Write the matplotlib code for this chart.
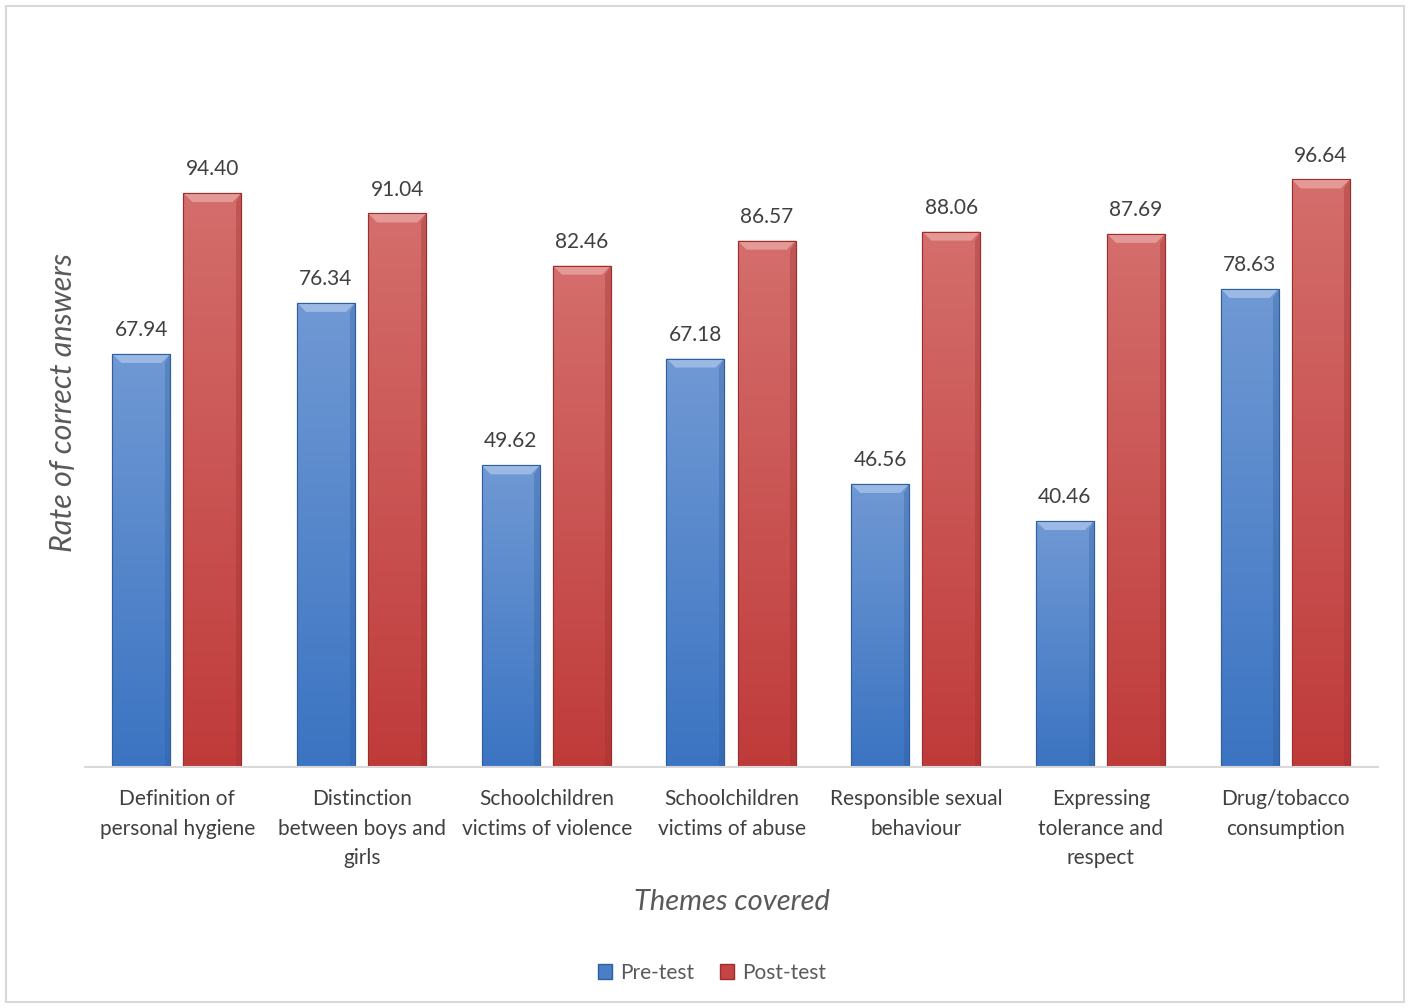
import numpy as np
import matplotlib
matplotlib.use("Agg")
import matplotlib.pyplot as plt
from matplotlib.patches import Patch, Polygon, Rectangle
from matplotlib.colors import LinearSegmentedColormap

plt.rcParams['font.family'] = ['Lato', 'DejaVu Sans']

themes = ["Definition of\npersonal hygiene",
          "Distinction\nbetween boys and\ngirls",
          "Schoolchildren\nvictims of violence",
          "Schoolchildren\nvictims of abuse",
          "Responsible sexual\nbehaviour",
          "Expressing\ntolerance and\nrespect",
          "Drug/tobacco\nconsumption"]
pre_test = [67.94, 76.34, 49.62, 67.18, 46.56, 40.46, 78.63]
post_test = [94.40, 91.04, 82.46, 86.57, 88.06, 87.69, 96.64]

W, H = 1410, 1008
fig = plt.figure(figsize=(W / 100, H / 100), dpi=100)
fig.patches.append(Rectangle((6 / W, 6 / H), 1 - 12 / W, 1 - 12 / H,
                             transform=fig.transFigure, fill=False,
                             edgecolor='#d9d9d9', linewidth=1.5))

# plot area: 0 at y=767 px, 6.08 px per unit
ymax = 120
ax_h = ymax * 6.08
ax = fig.add_axes([85 / W, (H - 767) / H, 1293 / W, ax_h / H])
ax.set_xlim(-0.5, len(themes) - 0.5)
ax.set_ylim(0, ymax)

styles = {
    'Pre-test': dict(top='#7099d4', bottom='#3b74c2', bevel='#a3c0e8',
                     edge='#2f5f9e', legend='#4a7fc6'),
    'Post-test': dict(top='#d46e6c', bottom='#bf3b3a', bevel='#e8a2a0',
                      edge='#9c2e2d', legend='#c44543'),
}

x = np.arange(len(themes))
width = 0.314
offsets = {'Pre-test': -0.195, 'Post-test': 0.19}
series = {'Pre-test': pre_test, 'Post-test': post_test}

# pixel -> data scale for the bevel
px_x = (ax.get_xlim()[1] - ax.get_xlim()[0]) / 1293
px_y = (ax.get_ylim()[1] - ax.get_ylim()[0]) / ax_h
bev = 9

for name, vals in series.items():
    st = styles[name]
    bars = ax.bar(x + offsets[name], vals, width, color=st['bottom'],
                  edgecolor=st['edge'], linewidth=0.8, zorder=2)
    cmap = LinearSegmentedColormap.from_list(name, [st['bottom'], st['top']])
    grad = np.linspace(0, 1, 256).reshape(-1, 1)
    for b, v in zip(bars, vals):
        x0, w = b.get_x(), b.get_width()
        im = ax.imshow(grad, cmap=cmap, origin='lower', aspect='auto',
                       extent=[x0, x0 + w, 0, v], zorder=2.1)
        im.set_clip_path(b)
        dx, dy = bev * px_x, bev * px_y
        ax.add_patch(Polygon([(x0, v), (x0 + w, v), (x0 + w - dx, v - dy),
                              (x0 + dx, v - dy)], closed=True,
                             facecolor=st['bevel'], edgecolor='none',
                             alpha=0.85, zorder=2.2))
        ax.add_patch(Polygon([(x0 + w, v), (x0 + w, 0), (x0 + w - dx * 0.6, 0),
                              (x0 + w - dx * 0.6, v - dy)], closed=True,
                             facecolor=st['edge'], edgecolor='none',
                             alpha=0.35, zorder=2.2))
        ax.add_patch(Rectangle((x0, 0), w, v, fill=False,
                               edgecolor=st['edge'], linewidth=0.8,
                               zorder=2.3))
        ax.annotate(f"{v:.2f}", (x0 + w / 2, v), xytext=(0, 10),
                    textcoords='offset points', ha='center', va='bottom',
                    fontsize=15, color='#404040')

ax.set_xticks(x)
ax.set_xticklabels(themes, fontsize=15, color='#404040', linespacing=1.6)
ax.tick_params(axis='x', length=0, pad=16)
ax.set_yticks([])
for side in ['top', 'right', 'left']:
    ax.spines[side].set_visible(False)
ax.spines['bottom'].set_color('#d9d9d9')
ax.spines['bottom'].set_linewidth(1.5)

ax.set_xlabel("Themes covered", fontsize=21, style='italic',
              color='#595959', labelpad=15)
ax.set_ylabel("Rate of correct answers", fontsize=22, style='italic',
              color='#595959', labelpad=6)

handles = [Patch(facecolor=styles[n]['legend'], edgecolor=styles[n]['edge'],
                 label=n) for n in series]
fig.legend(handles=handles, loc='center', bbox_to_anchor=(0.505, 0.035),
           ncol=2, frameon=False, fontsize=15, handlelength=0.7,
           handleheight=0.7, handletextpad=0.4, columnspacing=1.2,
           labelcolor='#595959')

fig.savefig("out.png", dpi=100)
